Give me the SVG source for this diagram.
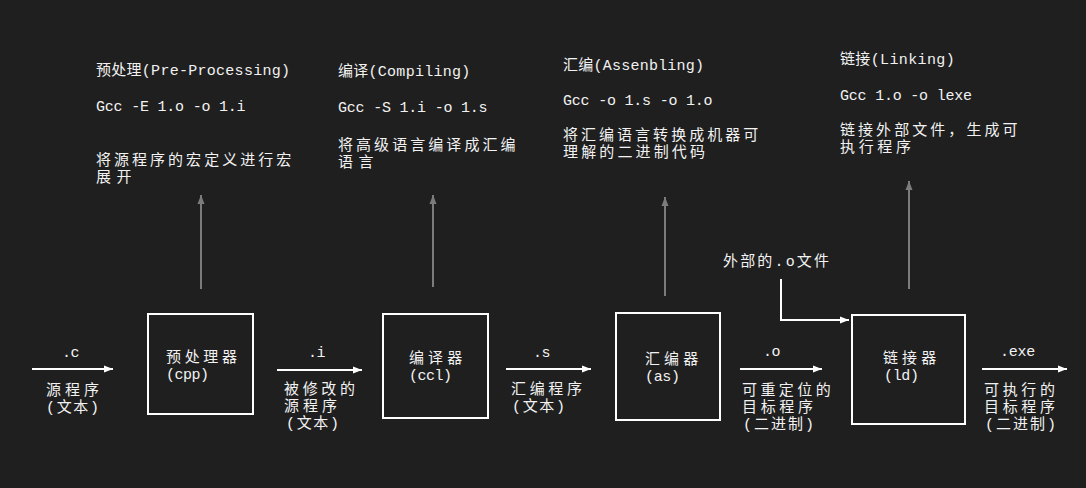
<svg xmlns="http://www.w3.org/2000/svg" width="1086" height="488" viewBox="0 0 1086 488">
<style>
text{font-family:"Liberation Mono","Noto Sans CJK SC",monospace;font-size:15px;fill:#f2f2f2}
.box{fill:none;stroke:#ffffff;stroke-width:2}
.flow{fill:none;stroke:#ffffff;stroke-width:2}
.up{fill:none;stroke:#7c7c7c;stroke-width:2}
</style>
<defs>
<marker id="wh" markerUnits="userSpaceOnUse" markerWidth="10" markerHeight="8" refX="9" refY="4" orient="auto"><path d="M0,0.5 L9,4 L0,7.5 Z" fill="#ffffff"/></marker>
<marker id="gh" markerUnits="userSpaceOnUse" markerWidth="10" markerHeight="8" refX="9" refY="4" orient="auto"><path d="M0,0.5 L9,4 L0,7.5 Z" fill="#7c7c7c"/></marker>
</defs>
<rect width="1086" height="488" fill="#1f1f1f"/>

<g id="connectors">
<line class="flow" x1="32" y1="369" x2="113" y2="369" marker-end="url(#wh)"/>
<line class="flow" x1="277" y1="370" x2="362" y2="370" marker-end="url(#wh)"/>
<line class="flow" x1="506" y1="369" x2="591" y2="369" marker-end="url(#wh)"/>
<line class="flow" x1="740" y1="369" x2="822" y2="369" marker-end="url(#wh)"/>
<line class="flow" x1="982" y1="369" x2="1067" y2="369" marker-end="url(#wh)"/>
<polyline class="flow" points="781,279 781,320 849,320" marker-end="url(#wh)"/>
<line class="up" x1="201" y1="289" x2="201" y2="195" marker-end="url(#gh)"/>
<line class="up" x1="433" y1="287" x2="433" y2="195" marker-end="url(#gh)"/>
<line class="up" x1="665" y1="296" x2="665" y2="197" marker-end="url(#gh)"/>
<line class="up" x1="909" y1="289" x2="909" y2="181" marker-end="url(#gh)"/>
</g>

<g id="labels">
<text x="62" y="357" textLength="17.6" lengthAdjust="spacing">.c</text>
<text x="46" y="395" textLength="53" lengthAdjust="spacing">源程序</text>
<text x="46" y="412" textLength="53" lengthAdjust="spacing">(文本)</text>
<text x="308" y="357" textLength="17.6" lengthAdjust="spacing">.i</text>
<text x="284" y="394" textLength="71" lengthAdjust="spacing">被修改的</text>
<text x="284" y="411" textLength="53" lengthAdjust="spacing">源程序</text>
<text x="286" y="428" textLength="53" lengthAdjust="spacing">(文本)</text>
<text x="533" y="357" textLength="17.6" lengthAdjust="spacing">.s</text>
<text x="511" y="394" textLength="71" lengthAdjust="spacing">汇编程序</text>
<text x="512" y="411" textLength="53" lengthAdjust="spacing">(文本)</text>
<text x="763" y="356" textLength="17.6" lengthAdjust="spacing">.o</text>
<text x="742" y="395" textLength="88.75" lengthAdjust="spacing">可重定位的</text>
<text x="742" y="412" textLength="71" lengthAdjust="spacing">目标程序</text>
<text x="743" y="429" textLength="71" lengthAdjust="spacing">(二进制)</text>
<text x="1000" y="356" textLength="35.2" lengthAdjust="spacing">.exe</text>
<text x="984" y="395" textLength="71" lengthAdjust="spacing">可执行的</text>
<text x="984" y="412" textLength="71" lengthAdjust="spacing">目标程序</text>
<text x="985" y="429" textLength="71" lengthAdjust="spacing">(二进制)</text>
<text x="723" y="266" textLength="106" lengthAdjust="spacing">外部的.o文件</text>
</g>

<g id="preprocessor">
<rect class="box" x="148" y="314" width="105" height="100"/>
<text x="166" y="362" textLength="71" lengthAdjust="spacing">预处理器</text>
<text x="166" y="379" textLength="43" lengthAdjust="spacing">(cpp)</text>
</g>
<g id="compiler">
<rect class="box" x="383" y="314" width="105" height="104"/>
<text x="409" y="363" textLength="53.25" lengthAdjust="spacing">编译器</text>
<text x="409" y="380" textLength="43" lengthAdjust="spacing">(ccl)</text>
</g>
<g id="assembler">
<rect class="box" x="616" y="313" width="104" height="107"/>
<text x="645" y="364" textLength="53.25" lengthAdjust="spacing">汇编器</text>
<text x="645" y="381" textLength="35" lengthAdjust="spacing">(as)</text>
</g>
<g id="linker">
<rect class="box" x="852" y="315" width="113" height="109"/>
<text x="883" y="363" textLength="53.25" lengthAdjust="spacing">链接器</text>
<text x="884" y="380" textLength="35" lengthAdjust="spacing">(ld)</text>
</g>

<g id="note-preprocessing">
<text x="96" y="75" textLength="194" lengthAdjust="spacing">预处理(Pre-Processing)</text>
<text x="96" y="111" textLength="149.6" lengthAdjust="spacing">Gcc -E 1.o -o 1.i</text>
<text x="96" y="165" textLength="195.25" lengthAdjust="spacing">将源程序的宏定义进行宏</text>
<text x="96" y="182" textLength="35.5" lengthAdjust="spacing">展开</text>
</g>
<g id="note-compiling">
<text x="338" y="76" textLength="132.3" lengthAdjust="spacing">编译(Compiling)</text>
<text x="338" y="112" textLength="149.6" lengthAdjust="spacing">Gcc -S 1.i -o 1.s</text>
<text x="338" y="150" textLength="177.5" lengthAdjust="spacing">将高级语言编译成汇编</text>
<text x="338" y="167" textLength="35.5" lengthAdjust="spacing">语言</text>
</g>
<g id="note-assembling">
<text x="563" y="70" textLength="141.1" lengthAdjust="spacing">汇编(Assenbling)</text>
<text x="563" y="105" textLength="149.6" lengthAdjust="spacing">Gcc -o 1.s -o 1.o</text>
<text x="563" y="140" textLength="195.25" lengthAdjust="spacing">将汇编语言转换成机器可</text>
<text x="563" y="157" textLength="142" lengthAdjust="spacing">理解的二进制代码</text>
</g>
<g id="note-linking">
<text x="840" y="64" textLength="114.7" lengthAdjust="spacing">链接(Linking)</text>
<text x="840" y="100" textLength="132" lengthAdjust="spacing">Gcc 1.o -o lexe</text>
<text x="840" y="135" textLength="177.5" lengthAdjust="spacing">链接外部文件，生成可</text>
<text x="840" y="152" textLength="71" lengthAdjust="spacing">执行程序</text>
</g>
</svg>
